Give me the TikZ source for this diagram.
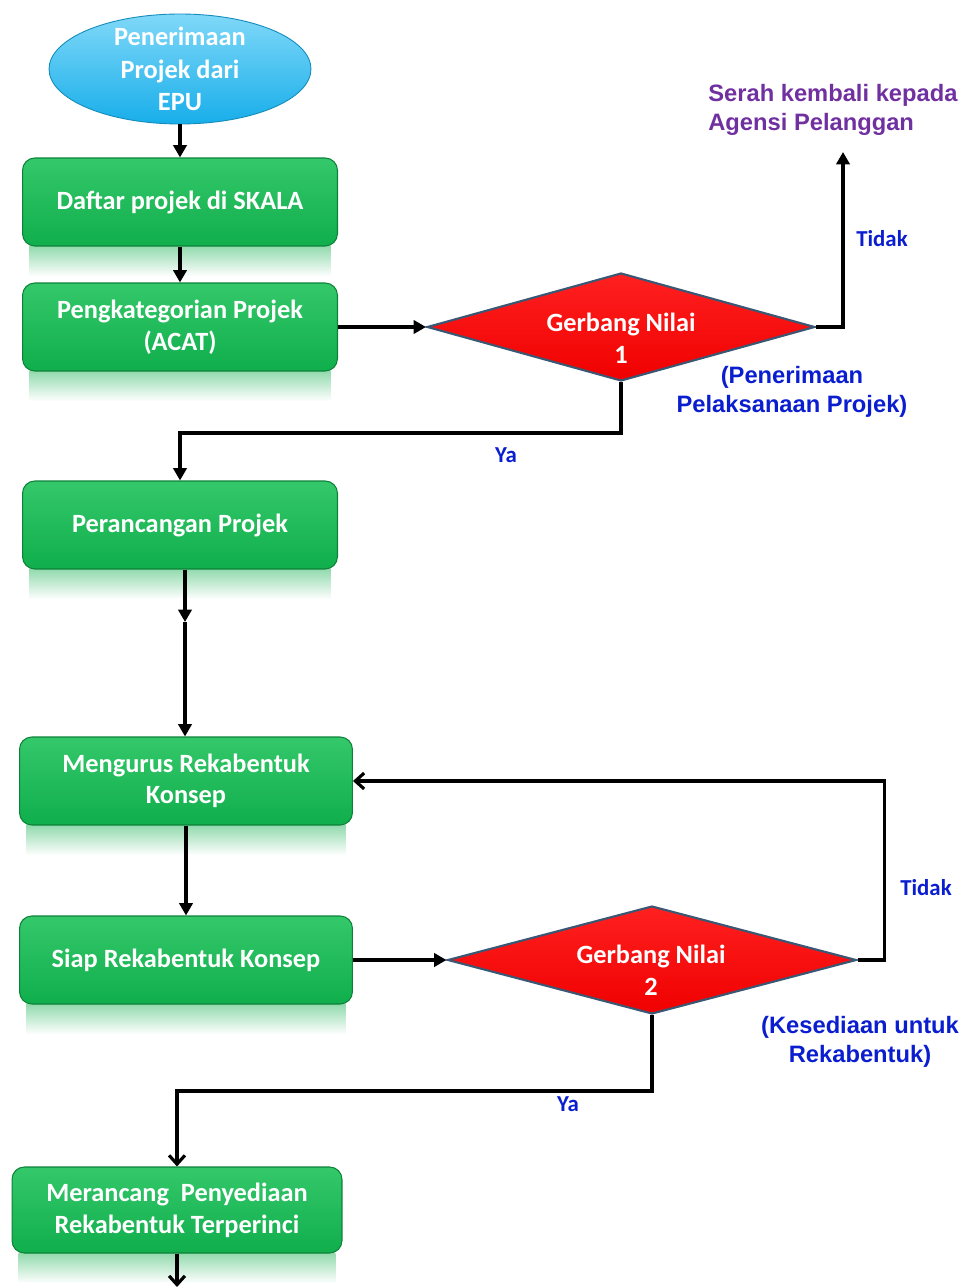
\documentclass[tikz,border=0pt]{standalone}
\usepackage{fontspec}
\setmainfont{Carlito}
\newfontfamily\arialfont{Liberation Sans}
\usetikzlibrary{arrows.meta,positioning,calc,backgrounds,shapes.geometric}
\definecolor{boxgreen}{HTML}{10AE4C}
\definecolor{boxgreentop}{HTML}{34C86A}
\definecolor{skyblue}{HTML}{18AEEA}
\definecolor{skybluetop}{HTML}{80D8F8}
\definecolor{gatered}{HTML}{F00000}
\definecolor{gateredtop}{HTML}{FF2020}
\definecolor{gateedge}{HTML}{3A5874}
\definecolor{labelblue}{HTML}{0A1ED0}
\definecolor{notepurple}{HTML}{7030A0}

\tikzset{
  procbox/.style={rectangle,rounded corners=7pt,top color=boxgreentop,bottom color=boxgreen,
    draw=boxgreen!75!black,line width=0.6pt,text=white,
    font=\fontsize{15}{18}\selectfont\bfseries,align=center,
    minimum width=6.3cm,minimum height=1.76cm,inner sep=2pt},
  startblob/.style={ellipse,top color=skybluetop,bottom color=skyblue,draw=skyblue!80!black,
    line width=0.5pt,text=white,font=\fontsize{15}{18.5}\selectfont\bfseries,align=center,
    minimum width=5.24cm,minimum height=2.2cm,inner xsep=0pt,inner ysep=-6pt},
  gate/.style={diamond,aspect=3.6,top color=gateredtop,bottom color=gatered,draw=gateedge,
    line width=1.2pt,inner sep=0pt,minimum width=7.76cm,minimum height=2.16cm},
  gatetext/.style={text=white,font=\fontsize{15}{18}\selectfont\bfseries,align=center,inner sep=0pt},
  reflect/.style={top color=boxgreen!45!white,bottom color=white},
  branchlbl/.style={text=labelblue,font=\fontsize{13}{15}\selectfont\bfseries,inner sep=0pt},
  notetext/.style={text=labelblue,font=\arialfont\fontsize{13.5}{16.8}\selectfont\bfseries,
    align=center,inner sep=0pt},
  returntext/.style={text=notepurple,font=\arialfont\fontsize{13.5}{16.8}\selectfont\bfseries,
    align=left,inner sep=0pt},
  flow/.style={-{Triangle[length=7pt,width=7.5pt]},line width=1.8pt},
  flowopen/.style={-{Straight Barb[length=5pt,width=9pt]},line width=1.8pt}
}

\begin{document}
\begin{tikzpicture}[x=0.02cm,y=-0.02cm]
  \useasboundingbox (0,0) rectangle (972,1287);
  % kotak proses
  \node[startblob] (mula) at (180,69) {Penerimaan\\Projek dari\\EPU};
  \node[procbox] (daftar) at (180,202) {Daftar projek di SKALA};
  \node[procbox] (kategori) at (180,327) {Pengkategorian Projek\\(ACAT)};
  \node[procbox] (rancang) at (180,525) {Perancangan Projek};
  \node[procbox,minimum width=6.66cm] (urus) at (186,781) {Mengurus Rekabentuk\\Konsep};
  \node[procbox,minimum width=6.66cm] (siap) at (186,960) {Siap Rekabentuk Konsep};
  \node[procbox,minimum width=6.6cm,minimum height=1.72cm] (terperinci) at (177,1210)
    {Merancang~~Penyediaan\\Rekabentuk Terperinci};
  % gerbang nilai
  \node[gate] (gerbang1) at (621,327) {};
  \node[gatetext] (teks1) at (621,338) {Gerbang Nilai\\1};
  \node[gate,minimum width=8.18cm] (gerbang2) at (652,960) {};
  \node[gatetext] (teks2) at (651,970) {Gerbang Nilai\\2};
  % pantulan di bawah kotak
  \begin{scope}[on background layer]
    \foreach \b in {daftar,kategori,rancang,urus,siap,terperinci}
      \shade[reflect] ([xshift=4pt]\b.south west) rectangle ([xshift=-4pt,yshift=-17pt]\b.south east);
  \end{scope}
  % teks keterangan
  \node[returntext,anchor=west] (serah) at (708,110) {Serah kembali kepada\\Agensi Pelanggan};
  \node[notetext] (terima) at (792,392) {(Penerimaan\\Pelaksanaan Projek)};
  \node[notetext] (sedia) at (860,1042) {(Kesediaan untuk\\Rekabentuk)};
  \node[branchlbl] (tidak1) at (882,239) {Tidak};
  \node[branchlbl] (ya1) at (506,455) {Ya};
  \node[branchlbl] (tidak2) at (926,888) {Tidak};
  \node[branchlbl] (ya2) at (568,1104) {Ya};
  \coordinate (kembali) at (843,152);
  \coordinate (tengah) at (185,622);
  \coordinate (bawah) at (177,1287);
  % anak panah
  \draw[flow] (mula.south) -- (daftar.north);
  \draw[flow] (daftar) -- (kategori);
  \draw[flow] (kategori.east) -- (gerbang1.west);
  \draw[flow] (gerbang1.east) -| (kembali);
  \draw[flow] (gerbang1.south) -- ++(0,51) -| (rancang.north);
  \draw[flow] (rancang.south -| tengah) -- (tengah);
  \draw[flow] (tengah) -- (urus.north -| tengah);
  \draw[flow] (urus) -- (siap);
  \draw[flow] (siap.east) -- (gerbang2.west);
  \draw[flowopen] (gerbang2.east) -- ++(27,0) |- (urus.east);
  \draw[flowopen] (gerbang2.south) -- ++(0,76) -| (terperinci.north);
  \draw[flowopen] (terperinci.south) -- (bawah);
\end{tikzpicture}
\end{document}
